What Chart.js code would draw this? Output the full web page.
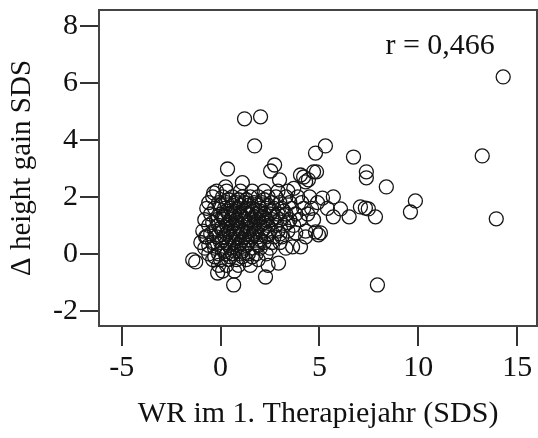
<!DOCTYPE html>
<html lang="de">
<head>
  <meta charset="UTF-8">
  <title>WR im 1. Therapiejahr</title>
  <script src="https://cdn.jsdelivr.net/npm/chart.js"></script>
  <style>
    html, body { margin: 0; padding: 0; background: #fff; overflow: hidden; }
    #box { width: 538px; height: 438px; }
    canvas { display: block; }
  </style>
</head>
<body>
  <div id="box"><canvas id="chart"></canvas></div>

  <script>
    // Werte: [WR SDS, Delta height gain SDS]
    const clusterPoints = [
      [-0.2, 2.2], [0.3, 2.2], [1.0, 2.2], [1.6, 2.2], [2.2, 2.2], [2.9, 2.2], [3.4, 2.2],
      [-0.4, 2.0], [0.1, 2.0], [0.6, 2.0], [1.1, 2.0], [1.5, 2.0], [1.9, 2.0], [2.4, 2.0], [2.8, 2.0], [3.3, 2.0], [3.9, 2.0], [4.5, 2.0],
      [0.4, 1.9], [0.9, 1.9], [1.3, 1.9], [2.2, 1.9],
      [-0.6, 1.8], [-0.1, 1.8], [0.3, 1.8], [0.8, 1.8], [1.2, 1.8], [1.7, 1.8], [2.1, 1.8], [2.6, 1.8], [3.0, 1.8], [3.5, 1.8], [4.1, 1.8], [4.9, 1.8],
      [0.0, 1.7], [0.6, 1.7], [1.0, 1.7], [1.4, 1.7], [1.9, 1.7], [2.4, 1.7],
      [-0.7, 1.6], [-0.3, 1.6], [0.2, 1.6], [0.5, 1.6], [0.9, 1.6], [1.3, 1.6], [1.6, 1.6], [2.0, 1.6], [2.3, 1.6], [2.7, 1.6], [3.1, 1.6], [3.6, 1.6], [4.2, 1.6], [4.6, 1.6],
      [0.3, 1.5], [0.7, 1.5], [1.2, 1.5], [1.6, 1.5], [2.0, 1.5], [2.6, 1.5], [3.2, 1.5],
      [-0.5, 1.4], [0.0, 1.4], [0.4, 1.4], [0.7, 1.4], [1.0, 1.4], [1.4, 1.4], [1.8, 1.4], [2.2, 1.4], [2.5, 1.4], [2.9, 1.4], [3.3, 1.4], [3.8, 1.4], [4.4, 1.4],
      [0.1, 1.3], [0.6, 1.3], [1.1, 1.3], [1.7, 1.3], [2.1, 1.3], [2.8, 1.3],
      [-0.8, 1.2], [-0.2, 1.2], [0.2, 1.2], [0.5, 1.2], [0.8, 1.2], [1.2, 1.2], [1.5, 1.2], [1.9, 1.2], [2.3, 1.2], [2.6, 1.2], [3.0, 1.2], [3.5, 1.2], [4.0, 1.2], [4.7, 1.2],
      [-0.4, 1.1], [0.4, 1.1], [0.8, 1.1], [1.4, 1.1], [1.8, 1.1], [2.2, 1.1], [3.4, 1.1],
      [-0.6, 1.0], [-0.1, 1.0], [0.3, 1.0], [0.6, 1.0], [0.9, 1.0], [1.3, 1.0], [1.7, 1.0], [2.0, 1.0], [2.4, 1.0], [2.8, 1.0], [3.2, 1.0], [3.7, 1.0],
      [0.0, 0.9], [0.5, 0.9], [1.0, 0.9], [1.5, 0.9], [2.2, 0.9],
      [-0.9, 0.8], [-0.3, 0.8], [0.1, 0.8], [0.4, 0.8], [0.7, 0.8], [1.1, 0.8], [1.4, 0.8], [1.8, 0.8], [2.1, 0.8], [2.5, 0.8], [2.9, 0.8], [3.4, 0.8], [4.3, 0.8],
      [-0.5, 0.7], [0.3, 0.7], [0.8, 0.7], [1.3, 0.7], [1.7, 0.7], [2.4, 0.7], [3.0, 0.7],
      [-0.7, 0.6], [-0.2, 0.6], [0.2, 0.6], [0.5, 0.6], [0.9, 0.6], [1.2, 0.6], [1.6, 0.6], [1.9, 0.6], [2.3, 0.6], [2.7, 0.6], [3.1, 0.6],
      [0.1, 0.5], [0.6, 0.5], [1.1, 0.5], [1.5, 0.5], [2.0, 0.5],
      [-1.0, 0.4], [-0.4, 0.4], [0.0, 0.4], [0.3, 0.4], [0.7, 0.4], [1.0, 0.4], [1.4, 0.4], [1.8, 0.4], [2.2, 0.4], [2.6, 0.4], [3.0, 0.4],
      [-0.6, 0.3], [0.4, 0.3], [0.9, 0.3], [1.3, 0.3], [1.9, 0.3],
      [-0.8, 0.2], [-0.3, 0.2], [0.1, 0.2], [0.5, 0.2], [0.8, 0.2], [1.2, 0.2], [1.6, 0.2], [2.0, 0.2], [2.5, 0.2], [3.3, 0.2],
      [0.2, 0.1], [0.7, 0.1], [1.1, 0.1],
      [-0.6, 0.0], [-0.1, 0.0], [0.3, 0.0], [0.6, 0.0], [1.0, 0.0], [1.4, 0.0], [1.8, 0.0], [2.3, 0.0],
      [-0.3, -0.1], [0.5, -0.1], [1.1, -0.1], [1.6, -0.1],
      [-0.4, -0.2], [0.0, -0.2], [0.4, -0.2], [0.8, -0.2], [1.3, -0.2], [1.9, -0.2],
      [-0.1, -0.4], [0.3, -0.4], [0.9, -0.4], [1.5, -0.4], [2.4, -0.4],
      [0.1, -0.6], [0.7, -0.6]
    ];

    const edgePoints = [
      [0.35, 2.98], [1.72, 3.79], [2.73, 3.12], [2.53, 2.91], [2.98, 2.6],
      [-0.35, 2.14], [0.25, 2.35], [1.1, 2.5], [3.7, 2.3],
      [-1.26, -0.28], [-1.41, -0.21], [-0.15, -0.67], [-0.76, 0.6],
      [0.66, -1.09], [2.27, -0.81], [2.93, -0.32], [3.64, 0.25],
      [3.8, 0.74], [4.3, 0.6], [4.04, 0.25]
    ];

    const tailPoints = [
      [4.2, 2.7], [4.7, 2.88], [4.44, 2.6], [4.3, 2.53], [4.04, 2.77], [4.85, 2.88],
      [4.8, 3.54], [5.3, 3.79], [6.72, 3.4],
      [5.15, 1.96], [5.7, 2.0], [5.4, 1.6], [5.7, 1.3], [6.06, 1.58], [6.5, 1.3],
      [4.95, 0.67], [4.8, 0.77], [5.05, 0.74],
      [7.07, 1.65], [7.47, 1.58], [7.32, 1.61], [7.83, 1.30],
      [7.37, 2.88], [7.37, 2.67], [8.38, 2.35], [9.85, 1.86], [9.6, 1.47]
    ];

    const outlierPoints = [
      [1.21, 4.74], [2.02, 4.81],
      [14.29, 6.21], [13.23, 3.44], [13.94, 1.23], [7.93, -1.09]
    ];

    const xTicks = [-5, 0, 5, 10, 15];
    const yTicks = [-2, 0, 2, 4, 6, 8];
    const xTitle = 'WR im 1. Therapiejahr (SDS)';
    const yTitle = '\u0394 height gain SDS';
    const rLabel = 'r = 0,466';

    const allPoints = clusterPoints.concat(edgePoints, tailPoints, outlierPoints)
      .map(p => ({ x: p[0], y: p[1] }));

    const serif = '"Liberation Serif", "DejaVu Serif", serif';

    // Rahmen um die Zeichenfläche und r-Beschriftung
    const framePlugin = {
      id: 'frame',
      afterDraw(chart) {
        const { ctx, chartArea: a, scales } = chart;
        ctx.save();
        ctx.strokeStyle = '#444';
        ctx.lineWidth = 2;
        ctx.strokeRect(a.left, a.top, a.right - a.left, a.bottom - a.top);
        ctx.fillStyle = '#111';
        ctx.font = '30px ' + serif;
        ctx.textAlign = 'center';
        ctx.textBaseline = 'middle';
        ctx.fillText(rLabel, scales.x.getPixelForValue(11.1), scales.y.getPixelForValue(7.3));
        ctx.restore();
      }
    };

    new Chart(document.getElementById('chart'), {
      type: 'scatter',
      data: {
        datasets: [{
          data: allPoints,
          pointStyle: 'circle',
          pointRadius: 7,
          pointHoverRadius: 7,
          borderWidth: 1.3,
          borderColor: '#151515',
          backgroundColor: 'rgba(0,0,0,0)'
        }]
      },
      options: {
        responsive: true,
        maintainAspectRatio: false,
        animation: false,
        events: [],
        layout: { autoPadding: false, padding: { top: 10, right: 1, left: 0, bottom: 0 } },
        plugins: { legend: { display: false }, tooltip: { enabled: false } },
        scales: {
          x: {
            type: 'linear',
            min: -6.15,
            max: 16.0,
            afterBuildTicks: s => { s.ticks = xTicks.map(v => ({ value: v })); },
            afterFit: s => { s.height = 112; s.paddingLeft = 0; s.paddingRight = 0; },
            grid: { drawOnChartArea: false, drawTicks: true, tickLength: 20, color: '#333', lineWidth: 2 },
            border: { display: false },
            ticks: { color: '#111', font: { family: serif, size: 30 }, padding: 4, maxRotation: 0 },
            title: { display: true, text: xTitle, color: '#111', font: { family: serif, size: 30 }, padding: { top: 1, bottom: 6 } }
          },
          y: {
            type: 'linear',
            min: -2.53,
            max: 8.56,
            afterBuildTicks: s => { s.ticks = yTicks.map(v => ({ value: v })); },
            afterFit: s => { s.width = 99; s.paddingTop = 0; s.paddingBottom = 0; },
            grid: { drawOnChartArea: false, drawTicks: true, tickLength: 19, color: '#333', lineWidth: 2 },
            border: { display: false },
            ticks: { color: '#111', font: { family: serif, size: 30 }, padding: 2 },
            title: { display: true, text: yTitle, color: '#111', font: { family: serif, size: 29 }, padding: { top: 5, bottom: 0 } }
          }
        }
      },
      plugins: [framePlugin]
    });
  </script>
</body>
</html>
